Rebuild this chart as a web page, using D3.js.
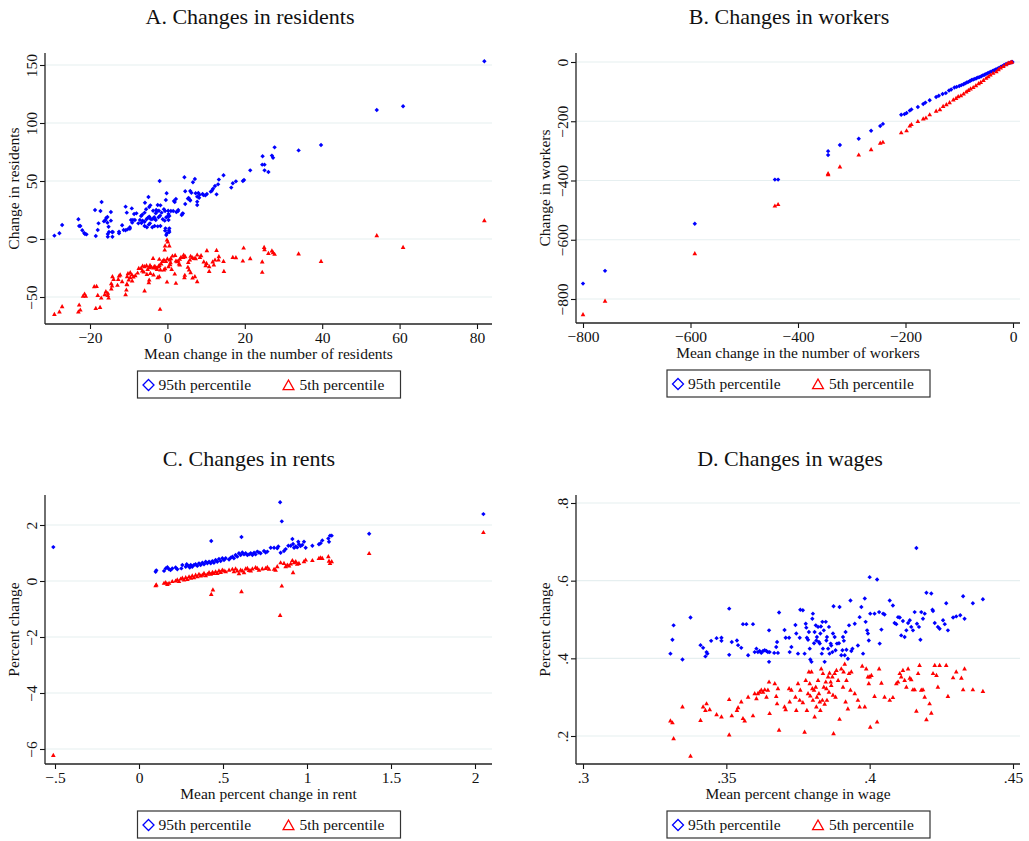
<!DOCTYPE html>
<html>
<head>
<meta charset="utf-8">
<script src="https://cdn.jsdelivr.net/npm/d3@7"></script>
<style>
  body { margin: 0; background: #fff; }
  svg text { font-family: "Liberation Serif", "Times New Roman", serif; fill: #111; }
</style>
</head>
<body>
<div id="chart"></div>
<script>
// ---- data: [mean change, percentile change] ----

// A. residents
const residentsHigh = [[27.7,79.0],[33.9,76.4],[24.6,71.3],[27.0,71.9],[27.3,70.1],[24.5,64.1],[25.1,64.1],[25.1,59.2],[26.1,57.8],[21.4,59.2],[19.8,50.9],[19.5,50.0],[17.7,49.7],[16.9,48.0],[16.5,44.3],[14.5,54.9],[13.3,51.2],[13.1,47.1],[12.3,45.7],[11.8,43.4],[11.5,41.7],[11.2,40.8],[12.7,38.5],[10.2,38.8],[9.8,37.6],[9.3,37.9],[9.1,38.8],[8.0,39.7],[8.3,38.2],[8.2,35.6],[7.7,36.5],[7.7,32.2],[7.7,29.3],[7.3,39.4],[6.6,48.9],[7.1,51.7],[4.4,53.2],[5.9,41.4],[6.2,39.9],[4.6,41.1],[5.5,35.3],[5.3,34.8],[5.8,33.9],[5.9,33.1],[4.6,30.2],[3.9,21.8],[4.0,22.1],[3.7,20.7],[2.2,34.5],[1.7,32.8],[1.9,31.9],[0.9,24.1],[1.5,24.1],[2.3,23.3],[2.7,23.9],[2.8,25.0],[-0.2,39.4],[-0.4,33.6],[-2.0,50.0],[-1.8,29.0],[-2.5,29.3],[-2.2,24.4],[-1.5,22.7],[-0.9,25.6],[-0.6,24.1],[0.2,24.4],[0.3,21.6],[0.5,19.8],[0.1,19.3],[0.3,16.4],[-0.3,18.7],[-1.2,17.0],[-0.7,15.8],[-1.9,20.1],[-2.3,18.7],[-3.0,22.1],[-3.4,18.7],[-3.0,16.4],[-2.7,23.9],[-2.9,25.0],[-3.7,24.4],[-4.4,29.0],[-4.7,27.6],[-4.9,36.2],[-5.8,31.3],[-5.5,25.6],[-5.9,22.7],[-6.5,21.0],[-6.8,19.8],[-7.1,16.4],[-6.4,15.8],[-5.9,14.9],[-5.4,17.0],[-5.1,18.1],[-4.7,19.3],[-4.4,17.5],[-4.0,17.0],[-3.6,17.8],[-3.3,17.5],[-4.8,12.4],[-4.5,13.5],[-3.9,10.1],[-3.3,11.2],[-2.5,10.9],[-1.8,11.2],[-5.3,10.1],[-5.9,11.2],[-6.7,13.8],[-7.5,13.5],[-8.4,16.4],[-9.4,16.4],[-8.9,16.4],[-9.1,14.1],[-9.2,26.4],[-10.8,27.9],[-10.5,22.7],[-8.0,22.1],[-8.6,21.6],[-9.7,10.1],[-9.7,8.9],[-10.3,8.3],[-10.8,7.5],[-11.3,7.8],[-11.7,11.8],[-12.5,6.3],[-12.5,4.9],[-14.3,6.0],[-14.1,6.0],[-15.1,6.0],[-15.4,4.3],[-14.2,2.0],[-15.4,2.0],[-15.2,10.6],[-15.5,14.1],[-16.0,16.4],[-15.8,18.1],[-15.5,19.0],[-14.6,15.8],[-14.6,23.3],[-17.0,31.9],[-17.3,24.1],[-18.7,25.0],[-16.4,15.2],[-17.8,13.5],[-18.0,7.8],[-18.5,2.6],[-20.9,4.0],[-21.3,4.3],[-21.5,5.2],[-22.0,7.5],[-22.8,11.2],[-22.5,11.2],[-23.0,17.0],[-27.2,12.1],[-27.9,4.9],[-29.2,2.9],[-0.5,9.2],[-0.6,7.2],[0.5,9.2],[0.4,7.5],[0.5,6.0],[-0.1,4.9],[-0.3,3.4],[39.7,81.0],[54.1,111.2],[60.9,114.4],[81.9,153.2]];
const residentsLow = [[-0.1,-0.9],[0.1,-2.6],[0.5,-6.0],[-0.6,-6.0],[-0.7,-9.5],[19.7,-7.8],[25.0,-7.2],[25.1,-9.2],[27.0,-10.3],[27.3,-11.8],[27.7,-13.2],[26.1,-12.4],[33.9,-12.9],[21.4,-17.0],[19.5,-19.0],[17.7,-16.1],[16.9,-15.8],[24.5,-19.8],[24.5,-28.7],[14.5,-19.3],[14.6,-27.9],[12.7,-9.8],[10.2,-10.1],[13.3,-15.2],[13.2,-18.1],[12.3,-18.1],[11.7,-19.8],[12.0,-22.4],[10.8,-23.9],[10.8,-27.9],[10.1,-21.0],[9.9,-23.0],[9.4,-19.8],[8.7,-14.4],[8.4,-15.8],[7.7,-13.8],[7.3,-17.0],[6.9,-16.7],[6.4,-16.1],[6.0,-14.9],[5.8,-18.1],[5.4,-20.1],[5.3,-24.4],[5.6,-26.7],[6.0,-29.0],[6.5,-33.6],[7.1,-32.5],[7.7,-36.8],[4.6,-15.2],[4.2,-13.8],[4.1,-15.8],[3.5,-15.8],[3.2,-17.5],[2.8,-19.0],[3.0,-21.6],[2.5,-19.5],[2.2,-19.0],[2.0,-14.1],[1.3,-14.7],[0.9,-17.0],[0.6,-18.1],[0.0,-17.2],[-0.4,-19.3],[-0.9,-18.1],[-1.3,-19.3],[-1.6,-21.6],[-2.1,-22.7],[-2.3,-23.9],[-2.8,-25.0],[-3.2,-23.9],[-3.6,-25.0],[-4.1,-24.4],[-4.5,-22.7],[-4.7,-24.7],[-5.1,-26.2],[-5.4,-23.0],[-5.9,-23.9],[-6.4,-23.3],[-6.8,-25.3],[-6.5,-27.6],[-6.1,-28.5],[-5.3,-30.5],[-4.4,-29.6],[-3.6,-31.0],[-2.5,-33.3],[-2.1,-32.5],[-3.7,-16.7],[-2.1,-17.5],[-0.1,-37.1],[2.2,-38.2],[4.4,-33.3],[4.5,-31.3],[1.9,-30.2],[0.3,-23.9],[0.7,-22.1],[0.8,-20.4],[1.1,-26.2],[3.2,-22.4],[-3.4,-23.9],[-2.7,-26.2],[-0.9,-26.7],[-1.8,-26.7],[-0.6,-25.6],[-4.7,-35.4],[-4.8,-37.6],[-5.9,-44.8],[-7.4,-25.3],[-7.7,-29.3],[-8.3,-31.6],[-8.8,-32.8],[-9.2,-30.8],[-9.6,-29.0],[-10.2,-29.9],[-10.4,-32.5],[-9.6,-33.3],[-9.1,-36.2],[-10.0,-35.4],[-10.4,-39.4],[-10.6,-44.0],[-10.8,-48.0],[-10.5,-39.1],[-11.7,-36.8],[-12.2,-31.0],[-12.5,-31.9],[-12.7,-34.8],[-12.9,-39.9],[-13.9,-34.8],[-14.2,-32.5],[-14.5,-38.5],[-14.3,-40.5],[-14.5,-43.1],[-15.4,-46.8],[-15.4,-48.6],[-15.2,-50.9],[-16.2,-48.0],[-15.9,-45.4],[-17.1,-50.9],[-18.0,-48.6],[-17.4,-58.9],[-18.5,-59.8],[-18.3,-40.8],[-18.9,-41.1],[-21.1,-49.4],[-21.4,-47.4],[-21.8,-49.4],[-22.8,-56.9],[-22.5,-61.2],[-23.0,-62.9],[-27.2,-58.3],[-27.9,-62.9],[-29.2,-65.0],[-1.9,-60.6],[39.7,-19.3],[54.1,2.9],[60.9,-7.2],[81.9,15.8]];

// B. workers
const workersHigh = [[-800,-748],[-759,-705],[-592,-546],[-443,-397],[-437,-397],[-344,-301],[-344,-314],[-322,-280],[-287,-259],[-264,-232],[-247,-216],[-242,-209],[-208,-178],[-202,-176],[-198,-172],[-192,-164],[-189,-160],[-177,-152],[-167,-142],[-163,-137],[-155,-129],[-143,-118],[-138,-114],[-131,-108],[-125,-105],[-119,-96],[-115,-93],[-109,-86],[-105,-84],[-100,-81],[-96,-78],[-92,-75],[-89,-72],[-86,-69],[-83,-67],[-80,-64],[-77,-61],[-74,-59],[-71,-57],[-68,-55],[-65,-52],[-62,-51],[-59,-48],[-56,-45],[-53,-43],[-50,-40],[-47,-38],[-44,-35],[-41,-33],[-38,-30],[-35,-28],[-32,-25],[-29,-23],[-26,-20],[-23,-17],[-20,-14],[-17,-11],[-14,-8],[-11,-6],[-8,-4],[-5,-2],[-3,-1],[-1,0]];
const workersLow = [[-800,-853],[-759,-807],[-592,-647],[-443,-486],[-437,-481],[-344,-377],[-344,-380],[-322,-354],[-287,-314],[-264,-296],[-247,-274],[-242,-271],[-208,-239],[-198,-232],[-192,-216],[-189,-211],[-177,-201],[-167,-192],[-162,-189],[-155,-178],[-143,-166],[-136,-161],[-130,-150],[-124,-144],[-118,-137],[-111,-128],[-106,-123],[-102,-117],[-97,-114],[-92,-108],[-87,-101],[-83,-96],[-79,-91],[-74,-86],[-69,-80],[-64,-73],[-60,-69],[-55,-62],[-50,-55],[-46,-50],[-42,-44],[-37,-38],[-31,-33],[-27,-26],[-23,-20],[-18,-15],[-13,-9],[-9,-4],[-5,-2],[-2,-0.5]];

// C. rents
const rentsHigh = [[0.099,0.33],[0.103,0.38],[0.149,0.36],[0.159,0.45],[0.169,0.49],[0.179,0.42],[0.188,0.39],[0.198,0.45],[0.218,0.48],[0.228,0.42],[0.252,0.45],[0.258,0.57],[0.278,0.51],[0.284,0.60],[0.294,0.54],[0.302,0.48],[0.308,0.57],[0.317,0.51],[0.327,0.57],[0.337,0.60],[0.347,0.54],[0.357,0.63],[0.367,0.57],[0.377,0.65],[0.387,0.60],[0.397,0.69],[0.407,0.63],[0.417,0.69],[0.427,0.63],[0.437,0.71],[0.446,0.65],[0.456,0.75],[0.466,0.69],[0.476,0.79],[0.486,0.71],[0.496,0.81],[0.506,0.75],[0.516,0.81],[0.536,0.77],[0.546,0.83],[0.556,0.87],[0.565,0.81],[0.575,0.93],[0.585,0.87],[0.595,0.99],[0.605,0.93],[0.615,1.02],[0.625,0.95],[0.635,0.99],[0.645,0.93],[0.655,0.95],[0.665,0.99],[0.675,0.93],[0.685,1.01],[0.694,0.95],[0.704,1.05],[0.714,1.02],[0.724,0.99],[0.744,1.07],[0.754,1.02],[0.764,1.05],[0.784,1.19],[0.804,1.19],[0.823,1.17],[0.829,1.23],[0.843,1.01],[0.863,1.07],[0.873,1.14],[0.889,1.26],[0.903,1.26],[0.913,1.50],[0.917,1.32],[0.923,1.19],[0.933,1.23],[0.942,1.20],[0.948,1.40],[0.952,1.31],[0.962,1.25],[0.972,1.29],[0.982,1.40],[0.992,1.19],[1.032,1.26],[1.071,1.31],[1.081,1.35],[1.091,1.45],[1.127,1.52],[1.131,1.40],[1.137,1.62],[1.147,1.62],[-0.51,1.21],[0.43,1.43],[0.61,1.57],[0.84,2.81],[0.85,2.13],[1.37,1.69],[2.05,2.39]];
const rentsLow = [[0.099,-0.17],[0.103,-0.14],[0.149,-0.08],[0.159,-0.06],[0.169,-0.12],[0.179,-0.08],[0.198,-0.02],[0.218,0.00],[0.228,0.04],[0.238,-0.02],[0.248,0.07],[0.258,0.10],[0.268,0.04],[0.278,0.12],[0.288,0.06],[0.298,0.15],[0.308,0.10],[0.317,0.18],[0.327,0.12],[0.337,0.21],[0.347,0.15],[0.357,0.24],[0.367,0.18],[0.377,0.21],[0.387,0.27],[0.397,0.19],[0.407,0.24],[0.417,0.30],[0.427,0.24],[0.437,0.31],[0.446,0.27],[0.456,0.33],[0.466,0.27],[0.476,0.36],[0.486,0.31],[0.496,0.39],[0.506,0.36],[0.516,0.33],[0.536,0.39],[0.556,0.42],[0.565,0.33],[0.575,0.43],[0.585,0.36],[0.595,0.26],[0.605,0.39],[0.615,0.36],[0.625,0.30],[0.635,0.43],[0.645,0.45],[0.655,0.38],[0.665,0.36],[0.675,0.43],[0.694,0.48],[0.704,0.45],[0.714,0.39],[0.734,0.43],[0.754,0.45],[0.764,0.49],[0.774,0.42],[0.804,0.42],[0.813,0.39],[0.823,0.51],[0.843,0.65],[0.863,0.63],[0.873,0.51],[0.883,0.57],[0.893,0.54],[0.903,0.61],[0.913,0.73],[0.917,0.30],[0.923,0.65],[0.933,0.69],[0.942,0.60],[0.952,0.63],[0.982,0.69],[0.992,0.75],[1.032,0.73],[1.071,0.81],[1.081,0.83],[1.091,0.81],[1.127,0.87],[1.131,0.71],[1.137,0.63],[1.147,0.69],[-0.51,-6.23],[0.43,-0.48],[0.44,-0.32],[0.61,-0.38],[0.84,-1.23],[0.85,-0.18],[1.37,0.98],[2.05,1.73]];

// D. wages
const wagesHigh = [[0.3305,0.412],[0.3312,0.448],[0.3316,0.485],[0.3347,0.397],[0.3375,0.505],[0.3410,0.434],[0.3419,0.427],[0.3427,0.405],[0.3431,0.416],[0.3434,0.412],[0.3447,0.445],[0.3466,0.452],[0.3483,0.453],[0.3483,0.445],[0.3510,0.528],[0.3510,0.409],[0.3519,0.442],[0.3537,0.446],[0.3541,0.434],[0.3552,0.427],[0.3558,0.488],[0.3570,0.488],[0.3576,0.408],[0.3593,0.488],[0.3599,0.416],[0.3605,0.425],[0.3610,0.416],[0.3616,0.419],[0.3622,0.414],[0.3628,0.419],[0.3634,0.421],[0.3640,0.419],[0.3645,0.416],[0.3649,0.472],[0.3649,0.391],[0.3651,0.416],[0.3667,0.414],[0.3674,0.429],[0.3677,0.442],[0.3680,0.414],[0.3684,0.518],[0.3703,0.473],[0.3707,0.453],[0.3719,0.453],[0.3721,0.416],[0.3727,0.429],[0.3741,0.486],[0.3744,0.464],[0.3750,0.412],[0.3756,0.453],[0.3758,0.525],[0.3767,0.524],[0.3773,0.412],[0.3777,0.489],[0.3779,0.479],[0.3781,0.453],[0.3785,0.448],[0.3788,0.468],[0.3791,0.425],[0.3793,0.397],[0.3797,0.391],[0.3800,0.502],[0.3802,0.515],[0.3806,0.439],[0.3808,0.468],[0.3812,0.485],[0.3814,0.446],[0.3816,0.455],[0.3820,0.481],[0.3823,0.442],[0.3826,0.438],[0.3828,0.464],[0.3830,0.482],[0.3833,0.412],[0.3835,0.494],[0.3837,0.425],[0.3840,0.472],[0.3843,0.391],[0.3847,0.494],[0.3849,0.446],[0.3851,0.455],[0.3855,0.425],[0.3858,0.481],[0.3860,0.412],[0.3864,0.438],[0.3866,0.433],[0.3870,0.416],[0.3872,0.464],[0.3874,0.534],[0.3878,0.455],[0.3881,0.421],[0.3886,0.438],[0.3893,0.439],[0.3895,0.532],[0.3901,0.408],[0.3905,0.421],[0.3907,0.455],[0.3910,0.445],[0.3913,0.408],[0.3916,0.468],[0.3919,0.422],[0.3924,0.399],[0.3928,0.485],[0.3933,0.549],[0.3936,0.419],[0.3940,0.425],[0.3948,0.489],[0.3959,0.433],[0.3965,0.506],[0.3971,0.532],[0.3977,0.412],[0.3983,0.554],[0.3986,0.494],[0.3991,0.472],[0.3994,0.464],[0.3997,0.446],[0.4000,0.609],[0.4002,0.515],[0.4017,0.515],[0.4026,0.603],[0.4033,0.519],[0.4035,0.438],[0.4041,0.474],[0.4047,0.515],[0.4052,0.513],[0.4070,0.549],[0.4081,0.536],[0.4087,0.491],[0.4093,0.488],[0.4099,0.506],[0.4105,0.505],[0.4110,0.459],[0.4116,0.496],[0.4122,0.455],[0.4128,0.472],[0.4134,0.491],[0.4140,0.498],[0.4145,0.481],[0.4151,0.472],[0.4157,0.519],[0.4163,0.684],[0.4165,0.489],[0.4172,0.481],[0.4177,0.448],[0.4180,0.519],[0.4186,0.502],[0.4192,0.515],[0.4198,0.569],[0.4215,0.567],[0.4219,0.525],[0.4221,0.522],[0.4227,0.491],[0.4238,0.481],[0.4244,0.476],[0.4256,0.498],[0.4262,0.488],[0.4267,0.542],[0.4273,0.472],[0.4291,0.505],[0.4302,0.508],[0.4316,0.511],[0.4326,0.560],[0.4331,0.502],[0.4360,0.542],[0.4395,0.552]];
const wagesLow = [[0.3305,0.239],[0.3312,0.234],[0.3316,0.193],[0.3347,0.275],[0.3375,0.148],[0.3410,0.240],[0.3419,0.275],[0.3427,0.266],[0.3431,0.283],[0.3442,0.268],[0.3466,0.255],[0.3483,0.249],[0.3510,0.294],[0.3510,0.203],[0.3519,0.252],[0.3537,0.266],[0.3541,0.273],[0.3552,0.288],[0.3558,0.245],[0.3564,0.239],[0.3576,0.300],[0.3593,0.252],[0.3599,0.309],[0.3605,0.296],[0.3610,0.309],[0.3616,0.313],[0.3622,0.318],[0.3628,0.313],[0.3634,0.319],[0.3640,0.300],[0.3645,0.318],[0.3649,0.339],[0.3651,0.258],[0.3669,0.335],[0.3674,0.302],[0.3677,0.283],[0.3680,0.322],[0.3684,0.215],[0.3703,0.275],[0.3707,0.268],[0.3719,0.322],[0.3721,0.288],[0.3727,0.318],[0.3741,0.300],[0.3744,0.266],[0.3750,0.335],[0.3756,0.292],[0.3758,0.318],[0.3767,0.286],[0.3773,0.210],[0.3777,0.343],[0.3781,0.266],[0.3785,0.309],[0.3788,0.365],[0.3791,0.335],[0.3793,0.303],[0.3797,0.365],[0.3800,0.322],[0.3802,0.292],[0.3806,0.318],[0.3808,0.249],[0.3812,0.326],[0.3814,0.275],[0.3816,0.300],[0.3820,0.343],[0.3823,0.309],[0.3826,0.288],[0.3828,0.266],[0.3831,0.373],[0.3835,0.292],[0.3837,0.361],[0.3840,0.326],[0.3843,0.282],[0.3847,0.339],[0.3849,0.322],[0.3851,0.292],[0.3855,0.352],[0.3858,0.313],[0.3860,0.362],[0.3864,0.339],[0.3866,0.330],[0.3870,0.352],[0.3872,0.305],[0.3874,0.206],[0.3878,0.361],[0.3881,0.300],[0.3884,0.369],[0.3890,0.343],[0.3895,0.243],[0.3901,0.373],[0.3907,0.326],[0.3909,0.365],[0.3913,0.385],[0.3916,0.288],[0.3919,0.343],[0.3924,0.270],[0.3928,0.361],[0.3933,0.318],[0.3936,0.365],[0.3948,0.309],[0.3959,0.292],[0.3965,0.275],[0.3974,0.380],[0.3983,0.275],[0.3988,0.373],[0.3994,0.352],[0.3997,0.335],[0.4000,0.352],[0.4002,0.223],[0.4006,0.356],[0.4017,0.302],[0.4026,0.236],[0.4033,0.373],[0.4041,0.336],[0.4052,0.300],[0.4070,0.292],[0.4081,0.299],[0.4093,0.335],[0.4099,0.339],[0.4105,0.361],[0.4110,0.352],[0.4116,0.369],[0.4122,0.343],[0.4128,0.326],[0.4134,0.373],[0.4140,0.349],[0.4145,0.345],[0.4151,0.319],[0.4157,0.319],[0.4163,0.264],[0.4169,0.361],[0.4174,0.382],[0.4180,0.318],[0.4186,0.319],[0.4192,0.300],[0.4198,0.242],[0.4209,0.283],[0.4215,0.259],[0.4221,0.361],[0.4227,0.382],[0.4233,0.356],[0.4238,0.326],[0.4244,0.382],[0.4267,0.382],[0.4273,0.302],[0.4291,0.350],[0.4302,0.365],[0.4320,0.349],[0.4326,0.319],[0.4331,0.373],[0.4360,0.319],[0.4395,0.315]];

// ticks
const resXTicks = [-20, 0, 20, 40, 60, 80];
const resYTicks = [-50, 0, 50, 100, 150];
const wrkXTicks = [-800, -600, -400, -200, 0];
const wrkYTicks = [-800, -600, -400, -200, 0];
const rentXTicks = [-0.5, 0, 0.5, 1, 1.5, 2];
const rentYTicks = [-6, -4, -2, 0, 2];
const wageXTicks = [0.3, 0.35, 0.4, 0.45];
const wageYTicks = [0.2, 0.4, 0.6, 0.8];

const legendLabels = ["95th percentile", "5th percentile"];
const BLUE = "#0000ff", RED = "#ff0000";

const width = 1029, height = 841;
const svg = d3.select("#chart").append("svg")
  .attr("width", width)
  .attr("height", height);

// stata style labels: ".5", "−20"
function stataFmt(v) {
  let s = d3.format("~g")(v);
  s = s.replace(/^(−|-)?0\./, (m, neg) => (neg ? "−" : "") + ".");
  return s.replace("-", "−");
}

function diamondPath(r) { return `M0,${-r}L${r},0L0,${r}L${-r},0Z`; }
function trianglePath(r) { return `M0,${-r}L${r*0.9},${r*0.6}L${-r*0.9},${r*0.6}Z`; }

const panels = [
  { title: "A. Changes in residents", tx: 250, ty: 24,
    left: 45, right: 492, top: 53, bottom: 324,
    xa: [-20, 80], xp: [90, 477], ya: [-50, 150], yp: [297, 65],
    xTicks: resXTicks, yTicks: resYTicks,
    xTitle: "Mean change in the number of residents", yTitle: "Change in residents",
    hi: residentsHigh, lo: residentsLow },
  { title: "B. Changes in workers", tx: 789, ty: 24,
    left: 576, right: 1020, top: 53, bottom: 323,
    xa: [-800, 0], xp: [583, 1013], ya: [-800, 0], yp: [299, 62],
    xTicks: wrkXTicks, yTicks: wrkYTicks,
    xTitle: "Mean change in the number of workers", yTitle: "Change in workers",
    hi: workersHigh, lo: workersLow },
  { title: "C. Changes in rents", tx: 249, ty: 466,
    left: 45, right: 492, top: 495, bottom: 764,
    xa: [-0.5, 2], xp: [55, 475], ya: [-6, 2], yp: [749, 525],
    xTicks: rentXTicks, yTicks: rentYTicks,
    xTitle: "Mean percent change in rent", yTitle: "Percent change",
    hi: rentsHigh, lo: rentsLow },
  { title: "D. Changes in wages", tx: 790, ty: 466,
    left: 576, right: 1020, top: 495, bottom: 764,
    xa: [0.3, 0.45], xp: [583, 1013], ya: [0.2, 0.8], yp: [736, 503],
    xTicks: wageXTicks, yTicks: wageYTicks,
    xTitle: "Mean percent change in wage", yTitle: "Percent change",
    hi: wagesHigh, lo: wagesLow }
];

panels.forEach(drawPanel);

function drawPanel(p) {
  const g = svg.append("g");

  // scales anchored on two tick positions, then stretched to the plot region
  const x0 = d3.scaleLinear().domain(p.xa).range(p.xp);
  const y0 = d3.scaleLinear().domain(p.ya).range(p.yp);
  const x = d3.scaleLinear().domain([x0.invert(p.left), x0.invert(p.right)]).range([p.left, p.right]);
  const y = d3.scaleLinear().domain([y0.invert(p.bottom), y0.invert(p.top)]).range([p.bottom, p.top]);

  g.append("text")
    .attr("x", p.tx).attr("y", p.ty)
    .attr("text-anchor", "middle")
    .style("font-size", "22px")
    .text(p.title);

  // gridlines
  g.append("g").selectAll("line")
    .data(p.yTicks)
    .enter().append("line")
    .attr("x1", p.left).attr("x2", p.right)
    .attr("y1", d => y(d)).attr("y2", d => y(d))
    .attr("stroke", "#e6eff0")
    .attr("stroke-width", 1.2);

  // x axis
  const xAxis = g.append("g")
    .attr("transform", `translate(0,${p.bottom})`)
    .call(d3.axisBottom(x).tickValues(p.xTicks).tickSize(5).tickPadding(3).tickFormat(stataFmt));
  xAxis.select(".domain").remove();
  xAxis.selectAll(".tick line").attr("stroke", "#111").attr("stroke-width", 1.1);
  xAxis.selectAll(".tick text")
    .attr("fill", "#111")
    .style("font-family", "Liberation Serif, serif")
    .style("font-size", "15.5px");

  // y axis (rotated labels)
  const yAxis = g.append("g")
    .attr("transform", `translate(${p.left},0)`)
    .call(d3.axisLeft(y).tickValues(p.yTicks).tickSize(5).tickFormat(stataFmt));
  yAxis.select(".domain").remove();
  yAxis.selectAll(".tick line").attr("stroke", "#111").attr("stroke-width", 1.1);
  yAxis.selectAll(".tick text")
    .attr("fill", "#111")
    .attr("x", null).attr("dy", null)
    .attr("text-anchor", "middle")
    .attr("transform", "translate(-8,0) rotate(-90)")
    .style("font-family", "Liberation Serif, serif")
    .style("font-size", "15.5px");

  // axis lines
  g.append("line")
    .attr("x1", p.left).attr("x2", p.right)
    .attr("y1", p.bottom).attr("y2", p.bottom)
    .attr("stroke", "#222").attr("stroke-width", 1.3);
  g.append("line")
    .attr("x1", p.left).attr("x2", p.left)
    .attr("y1", p.top).attr("y2", p.bottom)
    .attr("stroke", "#222").attr("stroke-width", 1.3);

  // axis titles
  g.append("text")
    .attr("x", (p.left + p.right) / 2).attr("y", p.bottom + 35)
    .attr("text-anchor", "middle")
    .style("font-size", "15.5px")
    .text(p.xTitle);
  g.append("text")
    .attr("transform", `translate(${p.left - 26},${(p.top + p.bottom) / 2}) rotate(-90)`)
    .attr("text-anchor", "middle")
    .style("font-size", "15.5px")
    .text(p.yTitle);

  // markers: 95th blue diamonds, 5th red triangles
  g.append("g").selectAll("path")
    .data(p.hi)
    .enter().append("path")
    .attr("transform", d => `translate(${x(d[0])},${y(d[1])})`)
    .attr("d", diamondPath(2.2))
    .attr("fill", BLUE);

  g.append("g").selectAll("path")
    .data(p.lo)
    .enter().append("path")
    .attr("transform", d => `translate(${x(d[0])},${y(d[1])})`)
    .attr("d", trianglePath(2.6))
    .attr("fill", RED);

  // legend
  const cx = (p.left + p.right) / 2;
  const lg = g.append("g").attr("transform", `translate(${cx - 131},${p.bottom + 47})`);
  lg.append("rect")
    .attr("width", 263).attr("height", 27)
    .attr("fill", "#fff")
    .attr("stroke", "#333").attr("stroke-width", 1.2);
  lg.append("path")
    .attr("transform", "translate(11,14)")
    .attr("d", diamondPath(5.5))
    .attr("fill", "none").attr("stroke", BLUE).attr("stroke-width", 1.3);
  lg.append("text")
    .attr("x", 21).attr("y", 19)
    .style("font-size", "15.5px")
    .text(legendLabels[0]);
  lg.append("path")
    .attr("transform", "translate(151,15)")
    .attr("d", trianglePath(6))
    .attr("fill", "none").attr("stroke", RED).attr("stroke-width", 1.3);
  lg.append("text")
    .attr("x", 162).attr("y", 19)
    .style("font-size", "15.5px")
    .text(legendLabels[1]);
}
</script>
</body>
</html>
